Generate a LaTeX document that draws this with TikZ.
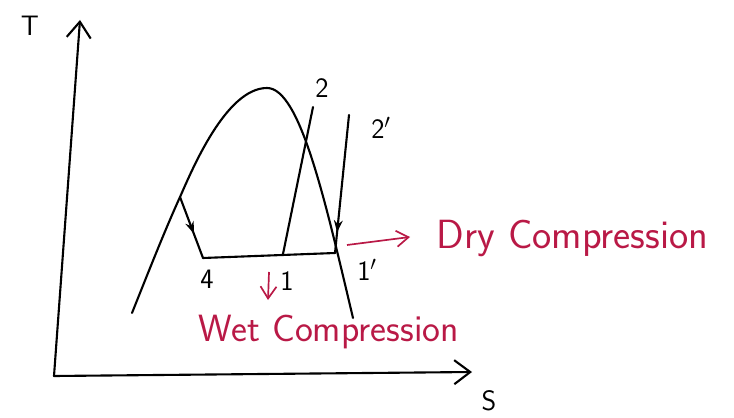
\documentclass[tikz,border=0pt]{standalone}
\usepackage{tikz}
\usetikzlibrary{arrows.meta,decorations.markings}
\definecolor{inkred}{RGB}{185,25,70}

\begin{document}
\begin{tikzpicture}[
    x=0.025cm,
    y=-0.025cm,
    ink/.style={draw=black,line width=1.5pt,line cap=round},
    axis/.style={ink,-{Straight Barb[length=4mm,width=6mm]}},
    midarrow/.style={ink,postaction={decorate},
        decoration={markings,mark=at position #1 with {\arrow{Stealth[length=3mm,width=2.2mm]}}}},
    redarrow/.style={draw=inkred,line width=1.2pt,-{Straight Barb[length=3mm,width=4mm]}},
    statelabel/.style={font=\sffamily\fontsize{20}{24}\selectfont},
    remark/.style={text=inkred,font=\sffamily\fontsize{#1}{30}\selectfont,anchor=west}
]
\useasboundingbox (0,0) rectangle (734,418);

% Axes.
\coordinate (o) at (54,376);
\coordinate (ttip) at (80,20);
\coordinate (stip) at (472,372);
\draw[axis] (o) -- (ttip);
\draw[axis] (o) -- (stip);
\node[statelabel] (lblT) at (30,26) {T};
\node[statelabel] (lblS) at (489,401) {S};

% Cycle states.
\coordinate (p3) at (180,197);
\coordinate (p4) at (203,258);
\coordinate (p1) at (283,254);
\coordinate (p1p) at (335,253);
\coordinate (p2) at (313,107);
\coordinate (p2p) at (349,115);

% Saturation dome.
\draw[ink] (132,313) .. controls (150,268) and (165,230) .. (p3)
    .. controls (192,170) and (226,88) .. (267,88)
    .. controls (300,88) and (325,200) .. (353,318);

\draw[midarrow=0.6] (p3) -- (p4);
\draw[ink] (p4) -- (p1p);
\draw[ink] (p1) -- (p2);
\draw[midarrow=0.85] (p2p) -- (p1p);

\node[statelabel] (lbl2) at (322,88) {2};
\node[statelabel] (lbl2p) at (381,128) {2$'$};
\node[statelabel] (lbl4) at (207,279) {4};
\node[statelabel] (lbl1) at (287,281) {1};
\node[statelabel] (lbl1p) at (367,270) {1$'$};

% Remarks.
\node[remark=29] (dry) at (432,238) {Dry Compression};
\node[remark=27] (wet) at (194,332) {Wet Compression};
\coordinate (dryfrom) at (347,245);
\coordinate (drytip) at (410,237);
\coordinate (wetfrom) at (269,272);
\coordinate (wettip) at (268,300);
\draw[redarrow] (dryfrom) -- (drytip);
\draw[redarrow] (wetfrom) -- (wettip);

\end{tikzpicture}
\end{document}
